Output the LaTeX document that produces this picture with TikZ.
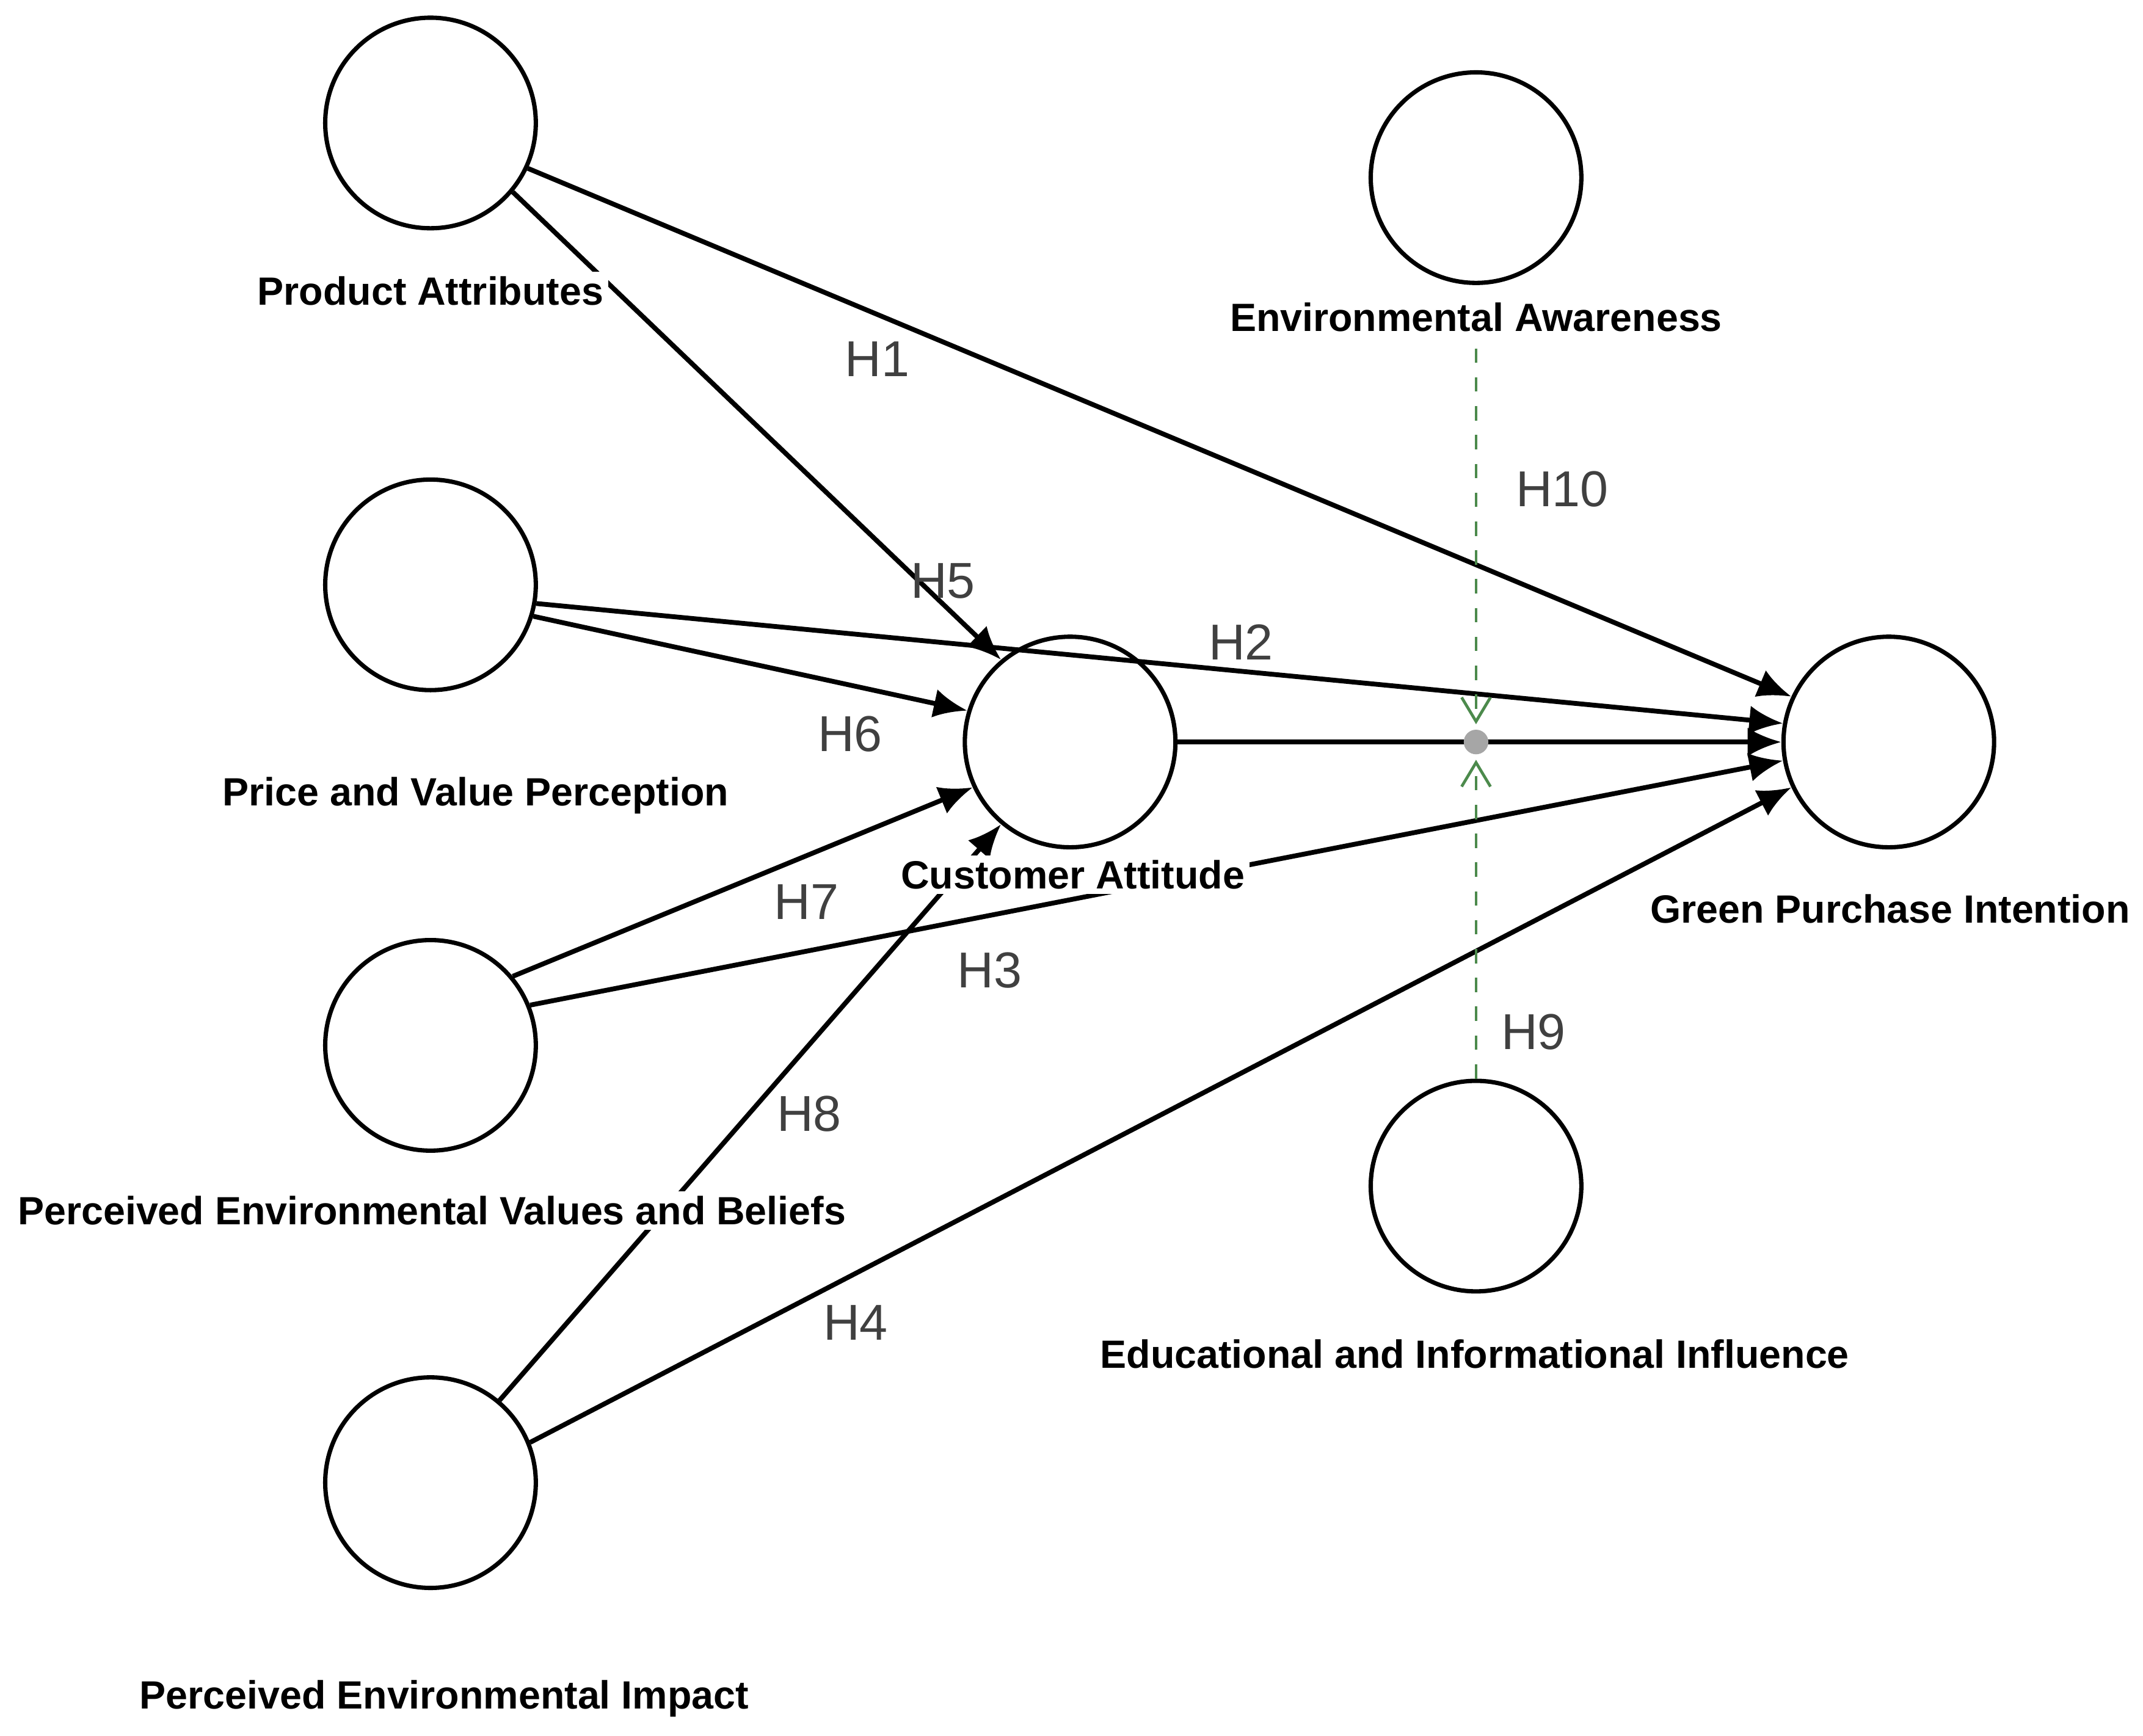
\documentclass[tikz,border=0pt]{standalone}
\usepackage{fontspec}
\setmainfont{Liberation Sans}
\usetikzlibrary{arrows.meta}
\begin{document}
\begin{tikzpicture}[x=0.01cm,y=-0.01cm,
  lv/.style={circle,draw,line width=0.9pt,minimum size=1.54cm,inner sep=0pt},
  lab/.style={font=\bfseries\fontsize{8.2}{9}\selectfont,fill=white,inner sep=1pt},
  hl/.style={font=\fontsize{10.5}{12}\selectfont,text=black!75},
  pth/.style={line width=1pt,-{Latex[length=7pt,width=6pt]}},
  mod/.style={dashed,draw=black!40!green!40!gray,line width=0.6pt,-{Straight Barb[length=5pt,width=6pt]}}]
\useasboundingbox (0,0) rectangle (1568,1270);
\node[lv] (pa) at (315,90) {};
\node[lv] (pv) at (315,428) {};
\node[lv] (pb) at (315,765) {};
\node[lv] (pi) at (315,1085) {};
\node[lv] (ca) at (783,543) {};
\node[lv] (gp) at (1382,543) {};
\node[lv] (ea) at (1080,130) {};
\node[lv] (ed) at (1080,868) {};
% paths
\draw[pth] (pa.-25) -- (gp.155);
\draw[pth] (pv.-10) -- (gp.170);
\draw[pth] (pb.22) -- (gp.190);
\draw[pth] (pi.22) -- (gp.205);
\draw[pth] (ca.east) -- (gp.180);
\draw[pth] (pa.-40) -- (ca.130);
\draw[pth] (pv.-17) -- (ca.163);
\draw[pth] (pb.40) -- (ca.205);
\draw[pth] (pi.50) -- (ca.230);
\coordinate (mp) at (1080,543);
\fill[gray!70] (mp) circle (9);
\coordinate (eatop) at (1080,255);
\coordinate (mpa) at (1080,530);
\coordinate (mpb) at (1080,556);
\draw[mod] (eatop) -- (mpa);
\draw[mod] (ed.north) -- (mpb);
% labels
\node[lab] (l1) at (315,213) {Product Attributes};
\node[lab] (l2) at (1080,232) {Environmental Awareness};
\node[lab] (l3) at (348,582) {Price and Value Perception};
\node[lab] (l4) at (785,640) {Customer Attitude};
\node[lab] (l5) at (1383,665) {Green Purchase Intention};
\node[lab] (l6) at (316,886) {Perceived Environmental Values and Beliefs};
\node[lab] (l7) at (1079,991) {Educational and Informational Influence};
\node[lab] (l8) at (325,1243) {Perceived Environmental Impact};
\node[hl] (h1) at (642,263) {H1};
\node[hl] (h5) at (690,425) {H5};
\node[hl] (h2) at (908,470) {H2};
\node[hl] (h6) at (622,537) {H6};
\node[hl] (h7) at (590,660) {H7};
\node[hl] (h3) at (724,710) {H3};
\node[hl] (h8) at (592,815) {H8};
\node[hl] (h4) at (626,968) {H4};
\node[hl] (h10) at (1143,358) {H10};
\node[hl] (h9) at (1122,755) {H9};
\end{tikzpicture}
\end{document}
